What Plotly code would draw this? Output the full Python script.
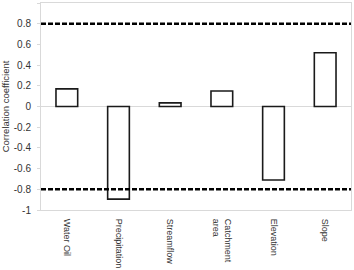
import plotly.graph_objects as go

categories = ["Water Oil", "Precipitation", "Streamflow", "Catchment<br>area", "Elevation", "Slope"]
values = [0.17, -0.895, 0.035, 0.15, -0.71, 0.52]
thresholds = [0.8, -0.8]
y_tickvals = [1, 0.8, 0.6, 0.4, 0.2, 0, -0.2, -0.4, -0.6, -0.8, -1]
y_ticktext = ["1", "0.8", "0.6", "0.4", "0.2", "0", "-0.2", "-0.4", "-0.6", "-0.8", "-1"]

fig = go.Figure()
fig.add_trace(go.Bar(
    x=categories, y=values, width=0.42,
    marker=dict(color="white", line=dict(color="#1a1a1a", width=1.6)),
    showlegend=False,
))

for t in thresholds:
    fig.add_shape(type="line", xref="paper", x0=0, x1=1, yref="y", y0=t, y1=t,
                  line=dict(color="black", width=2.6, dash="5px,2px"))

fig.update_layout(
    width=354, height=270,
    margin=dict(l=41, r=2, t=2, b=58),
    paper_bgcolor="white", plot_bgcolor="white",
    font=dict(family="Liberation Sans, Arial, sans-serif", size=9, color="#333333"),
    xaxis=dict(
        type="category", range=[-0.5, 5.5], tickangle=90,
        showline=True, linecolor="#d9d9d9", linewidth=1, mirror=True,
        ticks="", showgrid=False, tickfont=dict(size=9, color="#333333"),
        ticklabelstandoff=6,
    ),
    yaxis=dict(
        range=[-1, 1], tickvals=y_tickvals, ticktext=y_ticktext,
        showline=True, linecolor="#d9d9d9", linewidth=1, mirror=True,
        ticks="outside", ticklen=3, tickcolor="#d9d9d9",
        showgrid=False, zeroline=True, zerolinecolor="#d9d9d9", zerolinewidth=1,
        tickfont=dict(size=10, color="#333333"), ticklabelstandoff=4,
        title=dict(text="Correlation coefficient", font=dict(size=9.5, color="#333333"), standoff=2),
    ),
)

fig.write_html("out.html")
